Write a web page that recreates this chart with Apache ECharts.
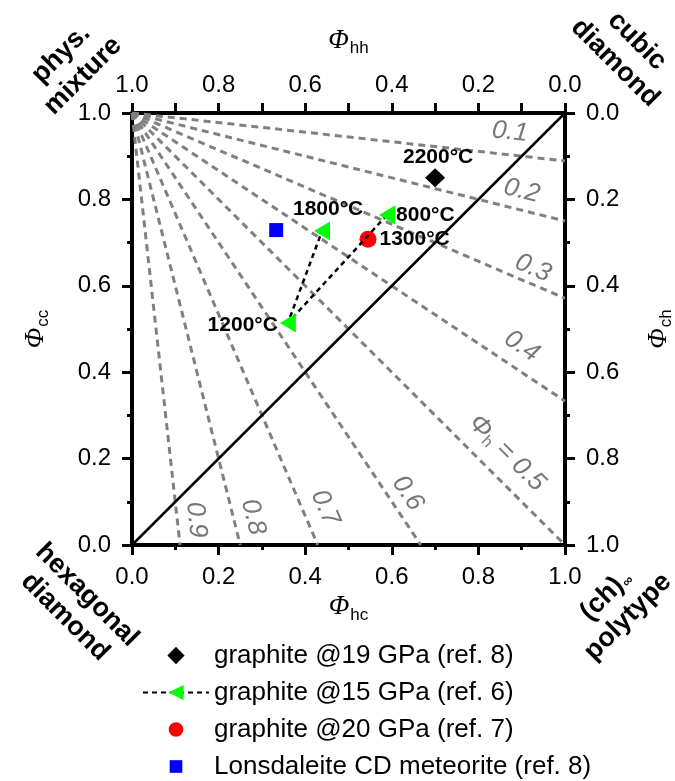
<!DOCTYPE html>
<html>
<head>
<meta charset="utf-8">
<script src="https://cdn.jsdelivr.net/npm/echarts@6/dist/echarts.min.js"></script>
<style>
  html, body { margin: 0; padding: 0; background: #fff; }
  #chart { width: 675px; height: 781px; }
</style>
</head>
<body>
<div id="chart"></div>
<script>
// lines of constant hexagonality, all starting at (Phi_hc, Phi_cc) = (0, 1)
const phiStart = [0, 1];
const phiLineEnds = [[1, 0.889], [1, 0.75], [1, 0.571], [1, 0.333], [1, 0], [0.667, 0], [0.429, 0], [0.25, 0], [0.111, 0]];
const phiLineNames = ['0.1', '0.2', '0.3', '0.4', '0.5', '0.6', '0.7', '0.8', '0.9'];
const phiLabelPos = [[0.873, 0.956], [0.90, 0.82], [0.926, 0.641], [0.90, 0.46], [0.866, 0.213], [0.637, 0.12], [0.446, 0.086], [0.28, 0.065], [0.148, 0.058]];

// measured samples
const legendNames = ['graphite @19 GPa (ref. 8)', 'graphite @15 GPa (ref. 6)', 'graphite @20 GPa (ref. 7)', 'Lonsdaleite CD meteorite (ref. 8)'];
const graphite19 = [[0.70, 0.85]];
const graphite19Labels = ['2200°C'];
const graphite15 = [[0.589, 0.764], [0.36, 0.514], [0.439, 0.727]];
const graphite15Labels = ['800°C', '1200°C', '1800°C'];
const graphite20 = [[0.545, 0.708]];
const graphite20Labels = ['1300°C'];
const meteorite = [[0.333, 0.729]];

const FONT = '"Liberation Sans", Arial, sans-serif';
const SERIF = '"Liberation Serif", "Times New Roman", serif';

// legend icons, padded with empty points so they keep a smaller size inside the icon box
const ICON_DIAMOND = 'path://M0,0 L0,0 M5,0.5 L10,5.5 L5,10.5 L0,5.5 Z M10,11 L10,11';
const ICON_CIRCLE = 'path://M-1.5,-1.5 L-1.5,-1.5 M0,5 A5,5 0 1,1 10,5 A5,5 0 1,1 0,5 Z M11.5,11.5 L11.5,11.5';
const ICON_SQUARE = 'path://M-2.5,-2.5 L-2.5,-2.5 M0,0 L10,0 L10,10 L0,10 Z M12.5,12.5 L12.5,12.5';

function fmt(v) { return v.toFixed(1) }

function axisName(sub) {
  return '{phi|Φ}{sub|' + sub + '}'
}
const nameRich = {
  phi: { fontFamily: SERIF, fontStyle: 'italic', fontSize: 27, color: '#000' },
  sub: { fontFamily: FONT, fontSize: 17, color: '#000', padding: [15, 0, 0, 1] }
}

function labelStyle(margin) {
  return { fontSize: 24, fontFamily: FONT, color: '#000', formatter: fmt, margin: margin }
}

function baseAxis(extra) {
  return Object.assign({
    type: 'value',
    min: 0,
    max: 1,
    interval: 0.2,
    axisLine: { onZero: false, lineStyle: { color: '#000', width: 4 } },
    axisTick: { length: 10, lineStyle: { color: '#000', width: 3 } },
    minorTick: { show: true, splitNumber: 2, length: 5, lineStyle: { color: '#000', width: 3 } },
    axisLabel: labelStyle(20),
    splitLine: { show: false },
    nameLocation: 'middle',
    nameTextStyle: { rich: nameRich }
  }, extra)
}

const chart = echarts.init(document.getElementById('chart'), null, { renderer: 'canvas' });

const series = [];

phiLineEnds.forEach((end, i) => {
  series.push({
    type: 'line',
    name: 'phi' + phiLineNames[i],
    data: [phiStart, end],
    symbol: 'none',
    silent: true,
    z: 1,
    lineStyle: { color: '#808080', width: 3, type: [7, 5] }
  })
})

// diagonal
series.push({
  type: 'line',
  name: 'diag',
  data: [[0, 0], [1, 1]],
  symbol: 'none',
  silent: true,
  z: 2,
  lineStyle: { color: '#000', width: 2.5 }
})

// labels on the hexagonality lines
series.push({
  type: 'scatter',
  name: 'phiLabels',
  symbolSize: 0,
  silent: true,
  z: 3,
  data: phiLabelPos.map((p, i) => {
    const end = phiLineEnds[i];
    const ang = Math.atan2(phiStart[1] - end[1], end[0] - phiStart[0]) * 180 / Math.PI;
    const txt = phiLineNames[i] === '0.5' ? '{phi|Φ}{sub|h}{t| = 0.5}' : '{t|' + phiLineNames[i] + '}';
    return { value: p, label: { rotate: -ang, formatter: txt } }
  }),
  label: {
    show: true,
    position: 'inside',
    align: 'center',
    verticalAlign: 'middle',
    rich: {
      t: { fontFamily: FONT, fontStyle: 'italic', fontSize: 26, color: '#555' },
      phi: { fontFamily: FONT, fontStyle: 'italic', fontSize: 26, color: '#555' },
      sub: { fontFamily: FONT, fontSize: 16, color: '#555', padding: [13, 0, 0, 0] }
    }
  }
})

const pointLabel = { show: true, color: '#000', fontFamily: FONT, fontWeight: 'bold', fontSize: 21 };

series.push({
  type: 'scatter',
  name: legendNames[0],
  symbol: 'diamond',
  symbolSize: [20, 19],
  z: 5,
  itemStyle: { color: '#000', opacity: 1 },
  data: graphite19.map((p, i) => ({ value: p, label: Object.assign({}, pointLabel, { formatter: graphite19Labels[i], position: 'top', distance: 1, offset: [3, 0] }) }))
})

const triPos = [
  { position: 'right', distance: 1, offset: [0, 0] },
  { position: 'left', distance: 2, offset: [0, 2] },
  { position: 'top', distance: 2, offset: [6, 0] }
];
series.push({
  type: 'line',
  name: legendNames[1],
  symbol: 'triangle',
  symbolRotate: 90,
  symbolSize: [19, 16],
  showAllSymbol: true,
  z: 6,
  lineStyle: { color: '#000', width: 2.5, type: [5, 4] },
  itemStyle: { color: '#00ff00', opacity: 1 },
  data: graphite15.map((p, i) => ({ value: p, label: Object.assign({}, pointLabel, { formatter: graphite15Labels[i] }, triPos[i]) }))
})

series.push({
  type: 'scatter',
  name: legendNames[2],
  symbol: 'circle',
  symbolSize: 17,
  z: 5,
  itemStyle: { color: '#ff0000', opacity: 1 },
  data: graphite20.map((p, i) => ({ value: p, label: Object.assign({}, pointLabel, { formatter: graphite20Labels[i], position: 'right', distance: 3 }) }))
})

series.push({
  type: 'scatter',
  name: legendNames[3],
  symbol: 'rect',
  symbolSize: 14,
  z: 5,
  itemStyle: { color: '#0000ff', opacity: 1 },
  data: meteorite
})

const cornerFont = 'bold 27px ' + FONT;

chart.setOption({
  animation: false,
  backgroundColor: '#fff',
  grid: { left: 132, right: 110, top: 113, bottom: 236, outerBoundsMode: 'none' },
  xAxis: [
    baseAxis({ position: 'bottom', name: axisName('hc'), nameGap: 46, axisLabel: labelStyle(20) }),
    baseAxis({ position: 'top', inverse: true, name: axisName('hh'), nameGap: 56,
      minorTick: { show: true, splitNumber: 2, length: 10, lineStyle: { color: '#000', width: 3 } },
      axisLabel: labelStyle(16) })
  ],
  yAxis: [
    baseAxis({ position: 'left', name: axisName('cc'), nameGap: 80, nameRotate: 90, axisLabel: labelStyle(21) }),
    baseAxis({ position: 'right', inverse: true, name: axisName('ch'), nameGap: 78, nameRotate: 90, axisLabel: labelStyle(21) })
  ],
  legend: {
    orient: 'vertical',
    left: 137,
    top: 637,
    height: 160,
    itemWidth: 66,
    itemHeight: 19,
    itemGap: 10,
    selectedMode: false,
    symbolKeepAspect: true,
    data: [
      { name: legendNames[0], icon: ICON_DIAMOND },
      { name: legendNames[1] },
      { name: legendNames[2], icon: ICON_CIRCLE },
      { name: legendNames[3], icon: ICON_SQUARE }
    ],
    textStyle: { fontFamily: FONT, fontSize: 26, color: '#000', lineHeight: 27 }
  },
  graphic: [
    { type: 'text', x: 72, y: 65, rotation: Math.PI / 4, style: { text: 'phys.\nmixture', font: cornerFont, fill: '#000', textAlign: 'center', textVerticalAlign: 'middle', lineHeight: 31 } },
    { type: 'text', x: 626, y: 52, rotation: -Math.PI / 4, style: { text: 'cubic\ndiamond', font: cornerFont, fill: '#000', textAlign: 'center', textVerticalAlign: 'middle', lineHeight: 31 } },
    { type: 'text', x: 76, y: 606, rotation: -Math.PI / 4, style: { text: 'hexagonal\ndiamond', font: cornerFont, fill: '#000', textAlign: 'center', textVerticalAlign: 'middle', lineHeight: 31 } },
    { type: 'text', x: 617, y: 606, rotation: Math.PI / 4, style: {
      text: '{a|(ch)}{s|∞}\n{a|polytype}', textAlign: 'center', textVerticalAlign: 'middle',
      rich: {
        a: { fill: '#000', lineHeight: 31, fontFamily: FONT, fontWeight: 'bold', fontSize: 27 },
        s: { fontFamily: FONT, fontWeight: 'bold', fontSize: 14, fill: '#000', padding: [12, 0, 0, 1] }
      } } }
  ],
  series: series
});
</script>
</body>
</html>
